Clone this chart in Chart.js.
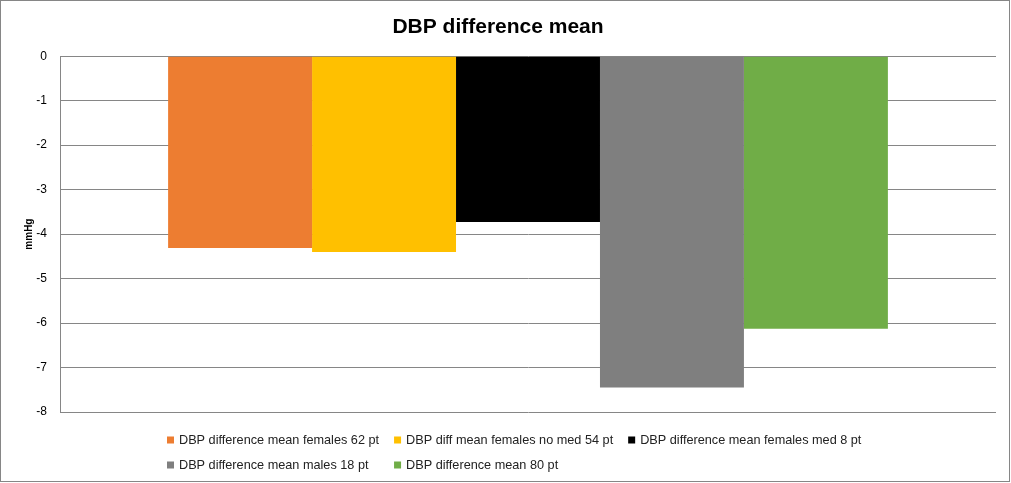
<!DOCTYPE html>
<html>
<head>
<meta charset="utf-8">
<script src="https://cdn.jsdelivr.net/npm/chart.js@4.4.1/dist/chart.umd.min.js"></script>
<style>
html,body{margin:0;padding:0;background:#fff;}
#wrap{width:1011px;height:483px;position:relative;}
</style>
</head>
<body>
<div id="wrap"><canvas id="c" width="1011" height="483"></canvas></div>
<script>
const categories = [''];
const seriesLabels = [
  'DBP difference mean females 62 pt',
  'DBP diff mean females no med 54 pt',
  'DBP difference mean females med 8 pt',
  'DBP difference mean males 18 pt',
  'DBP difference mean 80 pt'
];
const femalesAll = [-4.31];
const femalesNoMed = [-4.40];
const femalesMed = [-3.73];
const males = [-7.45];
const allPatients = [-6.13];
const seriesColors = ['#ED7D31', '#FFC000', '#000000', '#7F7F7F', '#70AD47'];
const yTicks = [0, -1, -2, -3, -4, -5, -6, -7, -8];

const seriesValues = [femalesAll, femalesNoMed, femalesMed, males, allPatients];

const bgBorder = {
  id: 'bgBorder',
  beforeDraw(chart) {
    const ctx = chart.ctx;
    ctx.save();
    ctx.fillStyle = '#fff';
    ctx.fillRect(0, 0, chart.width, chart.height);
    ctx.restore();
  },
  afterDraw(chart) {
    const ctx = chart.ctx;
    ctx.save();
    ctx.strokeStyle = '#868686';
    ctx.lineWidth = 1;
    ctx.strokeRect(0.5, 0.5, chart.width - 2, chart.height - 2);
    ctx.restore();
  }
};

const gridLegend = {
  id: 'gridLegend',
  afterDraw(chart, args, opts) {
    const ctx = chart.ctx;
    const ds = chart.data.datasets;
    const cols = opts.columns;
    ctx.save();
    ctx.font = opts.font;
    const colW = [];
    for (let c = 0; c < cols; c++) {
      let m = 0;
      for (let i = c; i < ds.length; i += cols) {
        m = Math.max(m, ctx.measureText(ds[i].label).width);
      }
      colW.push(m);
    }
    let total = 0;
    for (let c = 0; c < cols; c++) {
      total += opts.boxArea + colW[c] + (c < cols - 1 ? opts.gap : 0);
    }
    const startX = Math.round(opts.centerX - total / 2);
    ctx.textBaseline = 'middle';
    ctx.textAlign = 'left';
    ds.forEach((d, i) => {
      const c = i % cols, r = Math.floor(i / cols);
      let x = startX;
      for (let k = 0; k < c; k++) x += opts.boxArea + colW[k] + opts.gap;
      const y = opts.top + r * opts.rowH;
      ctx.fillStyle = d.backgroundColor;
      ctx.fillRect(x, y - opts.box / 2, opts.box, opts.box);
      ctx.fillStyle = opts.color;
      ctx.fillText(d.label, x + opts.boxArea, y);
    });
    ctx.restore();
  }
};

new Chart(document.getElementById('c'), {
  type: 'bar',
  data: {
    labels: categories,
    datasets: seriesLabels.map((lab, i) => ({
      label: lab,
      data: seriesValues[i],
      backgroundColor: seriesColors[i],
      borderWidth: 0,
      barPercentage: 1.0,
      categoryPercentage: 0.769
    }))
  },
  options: {
    responsive: false,
    animation: false,
    devicePixelRatio: 1,
    layout: { padding: { left: 0, right: 15, top: 0, bottom: 71 } },
    plugins: {
      legend: { display: false },
      tooltip: { enabled: false },
      title: {
        display: true,
        text: 'DBP difference mean',
        color: '#000',
        font: { family: 'Liberation Sans', size: 21, weight: 'bold' },
        padding: { top: 15, bottom: 16 }
      },
      gridLegend: {
        columns: 3,
        font: '12.7px "Liberation Sans"',
        color: '#222',
        box: 7,
        boxArea: 12,
        gap: 15,
        centerX: 514,
        top: 440,
        rowH: 25
      }
    },
    scales: {
      x: { display: false },
      y: {
        min: -8,
        max: 0,
        afterFit(scale) { scale.width = 60; },
        afterBuildTicks(scale) { scale.ticks = yTicks.map(v => ({ value: v })); },
        ticks: {
          stepSize: 1,
          padding: 13,
          color: '#000',
          font: { family: 'Liberation Sans', size: 12 }
        },
        grid: { color: '#868686', drawTicks: false, lineWidth: 1 },
        border: { display: true, color: '#868686', width: 1 },
        title: {
          display: true,
          text: 'mmHg',
          color: '#000',
          font: { family: 'Liberation Sans', size: 10, weight: 'bold' },
          padding: { top: 23, bottom: 0 }
        }
      }
    }
  },
  plugins: [bgBorder, gridLegend]
});
</script>
</body>
</html>
